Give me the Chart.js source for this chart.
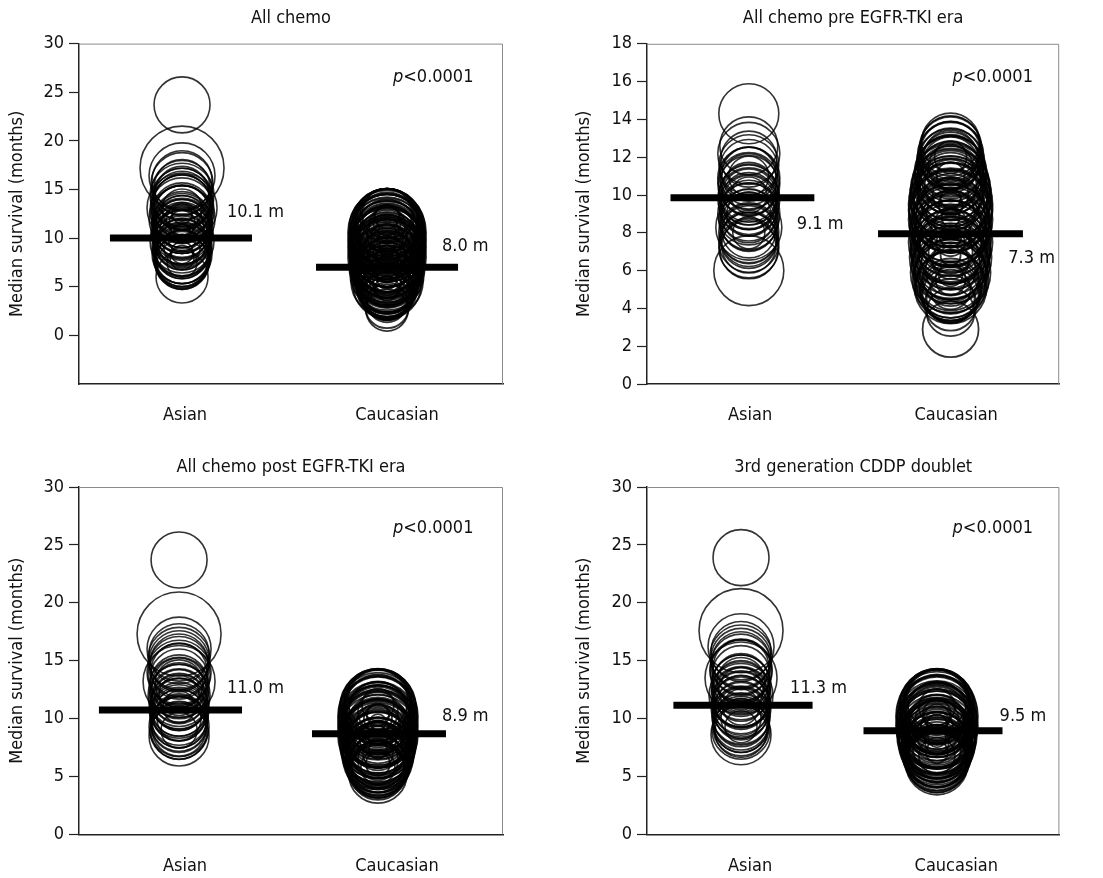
<!DOCTYPE html>
<html>
<head>
<meta charset="utf-8">
<script src="https://cdn.jsdelivr.net/npm/chart.js@4.4.1/dist/chart.umd.min.js"></script>
<style>
    body { margin: 0; background: #fff; }
    #wrap { position: relative; width: 1103px; height: 878px; }
    canvas { position: absolute; }
</style>
</head>
<body>
<div id="wrap">
    <canvas id="c1" width="551" height="440" style="left:0;top:0"></canvas>
    <canvas id="c2" width="552" height="440" style="left:551px;top:0"></canvas>
    <canvas id="c3" width="551" height="438" style="left:0;top:440px"></canvas>
    <canvas id="c4" width="552" height="438" style="left:551px;top:440px"></canvas>
</div>
<script>
const groups = ['Asian', 'Caucasian'];
const titles = ['All chemo', 'All chemo pre EGFR-TKI era', 'All chemo post EGFR-TKI era', '3rd generation CDDP doublet'];
const pValue = '<0.0001';

// panel 1: all chemo  (y = median survival, r = bubble size)
const p1AsianY = [23.7, 17.2, 16.4, 15.9, 15.6, 15.2, 14.9, 14.6, 14.2, 14.0, 13.7, 13.4, 13.1, 12.9, 12.7, 12.4, 12.2, 11.9, 11.7, 11.5, 11.2, 11.0, 10.8, 10.5, 10.3, 10.1, 9.9, 9.6, 9.4, 9.2, 8.9, 8.7, 8.5, 8.3, 8.1, 7.9, 7.7, 7.5, 7.3, 6.0,
    14.4, 13.9, 13.3, 12.6, 12.0, 11.4, 10.9, 10.4, 9.7, 9.0, 8.4, 7.8, 7.6,
    13.0, 12.0, 11.0, 10.0, 9.0, 8.0, 7.5, 12.5, 10.5, 8.5, 9.5, 11.5];
const p1AsianR = [28, 42, 33, 30, 31, 28, 30, 27, 29, 31, 28, 30, 35, 32, 27, 29, 31, 28, 26, 30, 27, 29, 28, 26, 30, 27, 29, 28, 26, 30, 27, 28, 26, 29, 27, 28, 26, 27, 25, 26,
    32, 29, 31, 30, 33, 29, 31, 30, 32, 29, 30, 28, 27,
    20, 16, 22, 14, 18, 12, 15, 10, 9, 11, 24, 13];
const p1CaucY = [12.5, 12.3, 12.0, 11.8, 11.5, 11.4, 11.2, 11.0, 10.9, 10.8, 10.6, 10.5, 10.4, 10.2, 10.0, 9.9, 9.8, 9.6, 9.5, 9.4, 9.2, 9.0, 8.9, 8.8, 8.6, 8.5, 8.4, 8.2, 8.0, 7.9, 7.8, 7.6, 7.5, 7.4, 7.2, 7.0, 6.9, 6.8, 6.6, 6.5, 6.4, 6.2, 6.0, 5.9, 5.8, 5.6, 5.5, 5.4, 5.2, 5.0, 4.9, 4.8, 4.6, 4.4, 4.2, 4.0, 3.8, 3.4, 3.0, 2.6,
    11.9, 11.6, 11.1, 10.7, 10.3, 10.1, 9.7, 9.3, 9.1, 8.7, 8.3, 8.1, 7.7, 7.3, 7.1, 6.7, 6.3, 6.1, 5.7, 5.3, 5.1, 4.7, 4.5, 10.5, 9.0, 7.5, 6.0,
    11.8, 11.3, 10.8, 10.4, 10.0, 9.6, 9.2, 8.8, 8.4, 8.0, 7.6, 7.2, 6.8, 6.4, 6.0, 5.6, 5.2, 4.8, 9.0, 8.2, 7.4, 6.6, 10.6, 5.8, 12.2];
const p1CaucR = [25, 27, 30, 32, 35, 32, 37, 38, 30, 36, 39, 28, 37, 38, 35, 29, 39, 36, 26, 38, 34, 39, 31, 37, 35, 24, 38, 36, 39, 28, 34, 37, 25, 35, 38, 33, 30, 36, 34, 23, 37, 32, 35, 27, 33, 36, 22, 31, 34, 30, 25, 30, 28, 27, 25, 24, 22, 20, 22, 21,
    31, 34, 33, 37, 31, 36, 34, 37, 32, 36, 33, 37, 35, 33, 36, 32, 34, 31, 32, 30, 28, 27, 26, 33, 28, 30, 29,
    14, 18, 12, 20, 16, 10, 22, 14, 18, 12, 20, 16, 13, 19, 15, 17, 14, 12, 8, 10, 9, 11, 9, 10, 12];
const p1MedianLine = [10.0, 7.0];
const p1MedianText = ['10.1 m', '8.0 m'];

// panel 2: pre EGFR-TKI era
const p2AsianY = [14.3, 12.6, 12.2, 11.9, 11.6, 11.4, 11.1, 10.9, 10.7, 10.5, 10.3, 10.1, 9.9, 9.8, 9.6, 9.5, 9.3, 9.1, 8.9, 8.7, 8.5, 8.3, 8.1, 7.9, 7.7, 7.5, 7.3, 7.1, 6.0,
    11.0, 10.6, 10.0, 9.7, 9.0, 8.6, 8.0, 7.6, 7.2,
    10.0, 9.0, 8.0, 11.0];
const p2AsianR = [30, 29, 31, 28, 30, 29, 27, 31, 28, 30, 27, 29, 28, 31, 27, 30, 28, 29, 27, 30, 28, 33, 27, 29, 28, 30, 27, 29, 35,
    29, 31, 30, 28, 31, 29, 30, 28, 30,
    18, 22, 16, 20];
const p2CaucY = [12.8, 12.5, 12.3, 12.1, 12.0, 11.9, 11.7, 11.6, 11.5, 11.3, 11.1, 11.0, 10.9, 10.7, 10.6, 10.5, 10.3, 10.1, 10.0, 9.9, 9.7, 9.6, 9.5, 9.3, 9.1, 9.0, 8.9, 8.7, 8.6, 8.5, 8.3, 8.1, 8.0, 7.9, 7.7, 7.6, 7.5, 7.3, 7.1, 7.0, 6.9, 6.7, 6.6, 6.5, 6.3, 6.1, 6.0, 5.9, 5.7, 5.6, 5.5, 5.3, 5.1, 4.9, 4.7, 4.5, 4.2, 3.8, 2.9,
    12.6, 12.2, 11.8, 11.4, 11.2, 10.8, 10.4, 10.2, 9.8, 9.4, 9.2, 8.8, 8.4, 8.2, 7.8, 7.4, 7.2, 6.8, 6.4, 6.2, 5.8, 5.4, 5.2, 5.0, 4.8,
    12.0, 11.5, 11.0, 10.5, 10.0, 9.5, 9.0, 8.5, 8.0, 7.5, 7.0, 6.5, 6.0, 5.5, 5.0, 9.8, 8.8, 7.8, 6.8, 5.8];
const p2CaucR = [29, 31, 30, 33, 27, 31, 34, 28, 32, 35, 33, 30, 36, 38, 31, 35, 40, 37, 32, 41, 38, 29, 42, 39, 41, 34, 37, 42, 30, 39, 40, 36, 33, 41, 38, 31, 42, 37, 40, 32, 36, 41, 29, 38, 39, 35, 31, 40, 37, 28, 38, 34, 36, 30, 28, 24, 26, 24, 28,
    30, 32, 29, 33, 36, 34, 39, 33, 40, 37, 42, 35, 41, 38, 36, 40, 34, 39, 37, 33, 36, 32, 35, 31, 29,
    16, 22, 14, 26, 18, 12, 24, 16, 20, 14, 22, 18, 25, 15, 20, 10, 9, 11, 10, 12];
const p2MedianLine = [9.85, 7.95];
const p2MedianText = ['9.1 m', '7.3 m'];

// panel 3: post EGFR-TKI era
const p3AsianY = [23.7, 17.3, 16.0, 15.6, 15.2, 14.8, 14.5, 14.1, 13.8, 13.5, 13.2, 12.9, 12.7, 12.4, 12.2, 11.9, 11.7, 11.4, 11.2, 11.0, 10.8, 10.5, 10.3, 10.0, 9.8, 9.6, 9.3, 9.1, 8.9, 8.5,
    15.0, 14.0, 13.0, 12.0, 11.5, 10.9, 10.2, 9.5, 9.0,
    12.0, 11.0, 10.0, 9.0, 13.0];
const p3AsianR = [28, 42, 32, 30, 31, 29, 30, 28, 31, 29, 36, 27, 30, 28, 29, 27, 30, 28, 26, 29, 27, 28, 26, 29, 27, 28, 30, 27, 28, 30,
    30, 32, 29, 31, 28, 30, 29, 28, 29,
    20, 16, 22, 18, 24];
const p3CaucY = [11.6, 11.5, 11.3, 11.2, 11.0, 10.9, 10.8, 10.7, 10.6, 10.5, 10.4, 10.2, 10.1, 10.0, 9.9, 9.8, 9.6, 9.5, 9.4, 9.3, 9.2, 9.0, 8.9, 8.8, 8.6, 8.5, 8.4, 8.3, 8.2, 8.0, 7.9, 7.8, 7.6, 7.5, 7.4, 7.3, 7.2, 7.0, 6.9, 6.8, 6.6, 6.5, 6.4, 6.3, 6.2, 6.0, 5.9, 5.8, 5.6, 5.4, 5.2,
    11.4, 11.1, 10.3, 9.7, 9.1, 8.7, 8.1, 7.7, 7.1, 6.7, 6.1, 5.7, 5.5, 10.0, 8.5, 7.0,
    11.2, 10.6, 10.0, 9.4, 8.8, 8.2, 7.6, 7.0, 6.4, 5.8, 9.7, 8.5, 7.3, 6.1, 10.3];
const p3CaucR = [30, 32, 34, 36, 38, 33, 35, 29, 39, 31, 37, 40, 32, 36, 33, 39, 34, 30, 40, 28, 37, 38, 32, 35, 40, 31, 36, 29, 39, 34, 31, 38, 36, 30, 37, 28, 33, 36, 30, 34, 35, 29, 32, 27, 33, 30, 26, 31, 28, 28, 29,
    33, 37, 39, 37, 39, 34, 38, 33, 35, 31, 29, 28, 27, 34, 37, 32,
    16, 20, 14, 22, 12, 18, 24, 15, 20, 17, 8, 10, 9, 12, 11];
const p3MedianLine = [10.75, 8.7];
const p3MedianText = ['11.0 m', '8.9 m'];

// panel 4: 3rd generation CDDP doublet
const p4AsianY = [23.9, 17.6, 16.2, 15.8, 15.4, 15.0, 14.7, 14.4, 14.1, 13.8, 13.5, 13.2, 12.9, 12.6, 12.4, 12.1, 11.9, 11.6, 11.4, 11.2, 10.9, 10.7, 10.4, 10.2, 9.9, 9.7, 9.4, 9.2, 8.9, 8.6,
    15.2, 14.2, 13.0, 12.0, 11.7, 11.0, 10.3, 9.5, 9.0,
    12.5, 11.0, 10.0, 9.3, 13.2];
const p4AsianR = [28, 42, 33, 30, 31, 29, 30, 28, 31, 29, 36, 28, 30, 28, 29, 27, 30, 28, 27, 29, 27, 28, 26, 29, 27, 28, 27, 28, 26, 30,
    30, 31, 29, 32, 28, 30, 29, 28, 29,
    22, 18, 20, 16, 24];
const p4CaucY = [11.6, 11.5, 11.3, 11.2, 11.0, 10.9, 10.8, 10.7, 10.6, 10.5, 10.4, 10.2, 10.1, 10.0, 9.9, 9.8, 9.7, 9.6, 9.5, 9.4, 9.3, 9.2, 9.0, 8.9, 8.8, 8.7, 8.6, 8.5, 8.4, 8.3, 8.2, 8.0, 7.9, 7.8, 7.6, 7.5, 7.4, 7.3, 7.2, 7.0, 6.9, 6.8, 6.6, 6.4, 6.2, 6.1,
    11.4, 11.1, 10.3, 9.9, 9.1, 8.6, 8.1, 7.7, 7.1, 6.7, 6.5, 6.3, 10.0, 8.5, 7.5,
    11.0, 10.4, 9.8, 9.2, 8.6, 8.0, 7.4, 6.8, 9.5, 8.3, 7.1, 10.1];
const p4CaucR = [30, 32, 34, 36, 38, 33, 35, 29, 40, 31, 37, 41, 32, 36, 33, 40, 27, 34, 30, 41, 28, 37, 39, 32, 35, 27, 40, 32, 36, 29, 39, 34, 31, 38, 35, 30, 36, 28, 32, 34, 28, 31, 33, 30, 30, 31,
    33, 37, 39, 37, 40, 34, 38, 33, 35, 30, 29, 31, 35, 38, 32,
    18, 14, 22, 16, 20, 12, 24, 18, 10, 9, 11, 13];
const p4MedianLine = [11.15, 8.95];
const p4MedianText = ['11.3 m', '9.5 m'];

const FONT = '"Liberation Sans Narrow", "DejaVu Sans Condensed", sans-serif';
const INK = '#111';

Chart.defaults.font.family = FONT;
Chart.defaults.font.size = 18;
Chart.defaults.color = INK;

const panels = [
    {
        id: 'c1', title: titles[0], titleY: 18, yMin: -5, yMax: 30, step: 5,
        yWidth: 79, xHeight: 56, pad: {top: 42, right: 48}, yTitlePad: 7,
        asian: [p1AsianY, p1AsianR], cauc: [p1CaucY, p1CaucR],
        groupX: [0.486, 1.453], lineX: [[0.146, 0.816], [1.118, 1.788]],
        median: p1MedianLine, medText: p1MedianText,
        textAt: [[0.698, 12.6], [1.712, 9.2]], pAt: [1.481, 26.5]
    },
    {
        id: 'c2', title: titles[1], titleY: 18, yMin: 0, yMax: 18, step: 2,
        yWidth: 96, xHeight: 56, pad: {top: 42, right: 35}, yTitlePad: 23,
        asian: [p2AsianY, p2AsianR], cauc: [p2CaucY, p2CaucR],
        groupX: [0.494, 1.473], lineX: [[0.114, 0.812], [1.121, 1.824]],
        median: p2MedianLine, medText: p2MedianText,
        textAt: [[0.727, 8.47], [1.753, 6.63]], pAt: [1.482, 16.2]
    },
    {
        id: 'c3', title: titles[2], titleY: 27, yMin: 0, yMax: 30, step: 5,
        yWidth: 79, xHeight: 41, pad: {top: 47, right: 48}, yTitlePad: 7,
        asian: [p3AsianY, p3AsianR], cauc: [p3CaucY, p3CaucR],
        groupX: [0.472, 1.410], lineX: [[0.094, 0.769], [1.099, 1.731]],
        median: p3MedianLine, medText: p3MedianText,
        textAt: [[0.698, 12.6], [1.712, 10.2]], pAt: [1.481, 26.4]
    },
    {
        id: 'c4', title: titles[3], titleY: 27, yMin: 0, yMax: 30, step: 5,
        yWidth: 96, xHeight: 41, pad: {top: 47, right: 35}, yTitlePad: 23,
        asian: [p4AsianY, p4AsianR], cauc: [p4CaucY, p4CaucR],
        groupX: [0.456, 1.406], lineX: [[0.128, 0.803], [1.050, 1.724]],
        median: p4MedianLine, medText: p4MedianText,
        textAt: [[0.694, 12.6], [1.710, 10.2]], pAt: [1.482, 26.4]
    }
];

// frame on top/right, panel title, median labels and p value
const extras = {
    id: 'extras',
    afterDatasetsDraw(chart, args, opts) {
        const {ctx, chartArea: a, scales: {x, y}} = chart;
        const p = opts.panel;
        ctx.save();
        ctx.strokeStyle = '#8a8a8a';
        ctx.lineWidth = 1;
        ctx.beginPath();
        ctx.moveTo(a.left, a.top + 0.5);
        ctx.lineTo(a.right - 0.5, a.top + 0.5);
        ctx.lineTo(a.right - 0.5, a.bottom);
        ctx.stroke();

        ctx.fillStyle = INK;
        ctx.font = '18px ' + FONT;
        ctx.textBaseline = 'middle';
        ctx.textAlign = 'center';
        ctx.fillText(p.title, (a.left + a.right) / 2, p.titleY);

        ctx.textAlign = 'left';
        p.medText.forEach((t, i) => {
            ctx.fillText(t, x.getPixelForValue(p.textAt[i][0]), y.getPixelForValue(p.textAt[i][1]));
        });

        let px = x.getPixelForValue(p.pAt[0]);
        const py = y.getPixelForValue(p.pAt[1]);
        ctx.font = 'italic 18px ' + FONT;
        ctx.fillText('p', px, py);
        px += ctx.measureText('p').width;
        ctx.font = '18px ' + FONT;
        ctx.fillText(pValue, px, py);
        ctx.restore();
    }
};

function bubbles(ys, rs, gx) {
    return ys.map((v, i) => ({x: gx, y: v, r: rs[i]}));
}

panels.forEach(p => {
    const ctx = document.getElementById(p.id).getContext('2d');

    new Chart(ctx, {
        type: 'bubble',
        data: {
            datasets: [
                {
                    type: 'line', order: 0,
                    data: [{x: p.lineX[0][0], y: p.median[0]}, {x: p.lineX[0][1], y: p.median[0]}],
                    borderColor: '#000', borderWidth: 7, pointRadius: 0, borderCapStyle: 'butt'
                },
                {
                    type: 'line', order: 0,
                    data: [{x: p.lineX[1][0], y: p.median[1]}, {x: p.lineX[1][1], y: p.median[1]}],
                    borderColor: '#000', borderWidth: 7, pointRadius: 0, borderCapStyle: 'butt'
                },
                {
                    label: groups[0], order: 1,
                    data: bubbles(p.asian[0], p.asian[1], p.groupX[0]),
                    borderColor: 'rgba(0,0,0,0.8)', borderWidth: 1.6,
                    backgroundColor: 'rgba(0,0,0,0)'
                },
                {
                    label: groups[1], order: 1,
                    data: bubbles(p.cauc[0], p.cauc[1], p.groupX[1]),
                    borderColor: 'rgba(0,0,0,0.8)', borderWidth: 1.8,
                    backgroundColor: 'rgba(0,0,0,0)'
                }
            ]
        },
        options: {
            responsive: false,
            animation: false,
            events: [],
            layout: {padding: {top: p.pad.top, right: p.pad.right, left: 0, bottom: 0}},
            plugins: {
                legend: {display: false},
                tooltip: {enabled: false},
                extras: {panel: p}
            },
            scales: {
                x: {
                    type: 'linear', min: 0, max: 2,
                    afterBuildTicks: s => { s.ticks = [{value: 0.5}, {value: 1.5}]; },
                    afterFit: s => { s.height = p.xHeight; },
                    ticks: {
                        callback: (v, i) => groups[i],
                        autoSkip: false, maxRotation: 0, padding: 13, color: INK
                    },
                    grid: {display: false},
                    border: {display: true, color: '#222', width: 1.5}
                },
                y: {
                    min: p.yMin, max: p.yMax,
                    afterBuildTicks: s => { s.ticks = s.ticks.filter(t => t.value >= 0); },
                    afterFit: s => { s.width = p.yWidth; },
                    ticks: {stepSize: p.step, padding: 5, color: INK},
                    grid: {drawOnChartArea: false, tickLength: 10, tickColor: '#222', tickWidth: 1.2},
                    border: {display: true, color: '#222', width: 1.5},
                    title: {
                        display: true, text: 'Median survival (months)',
                        color: INK, font: {size: 18}, padding: {top: p.yTitlePad, bottom: 0}
                    }
                }
            }
        },
        plugins: [extras]
    });
});
</script>
</body>
</html>
